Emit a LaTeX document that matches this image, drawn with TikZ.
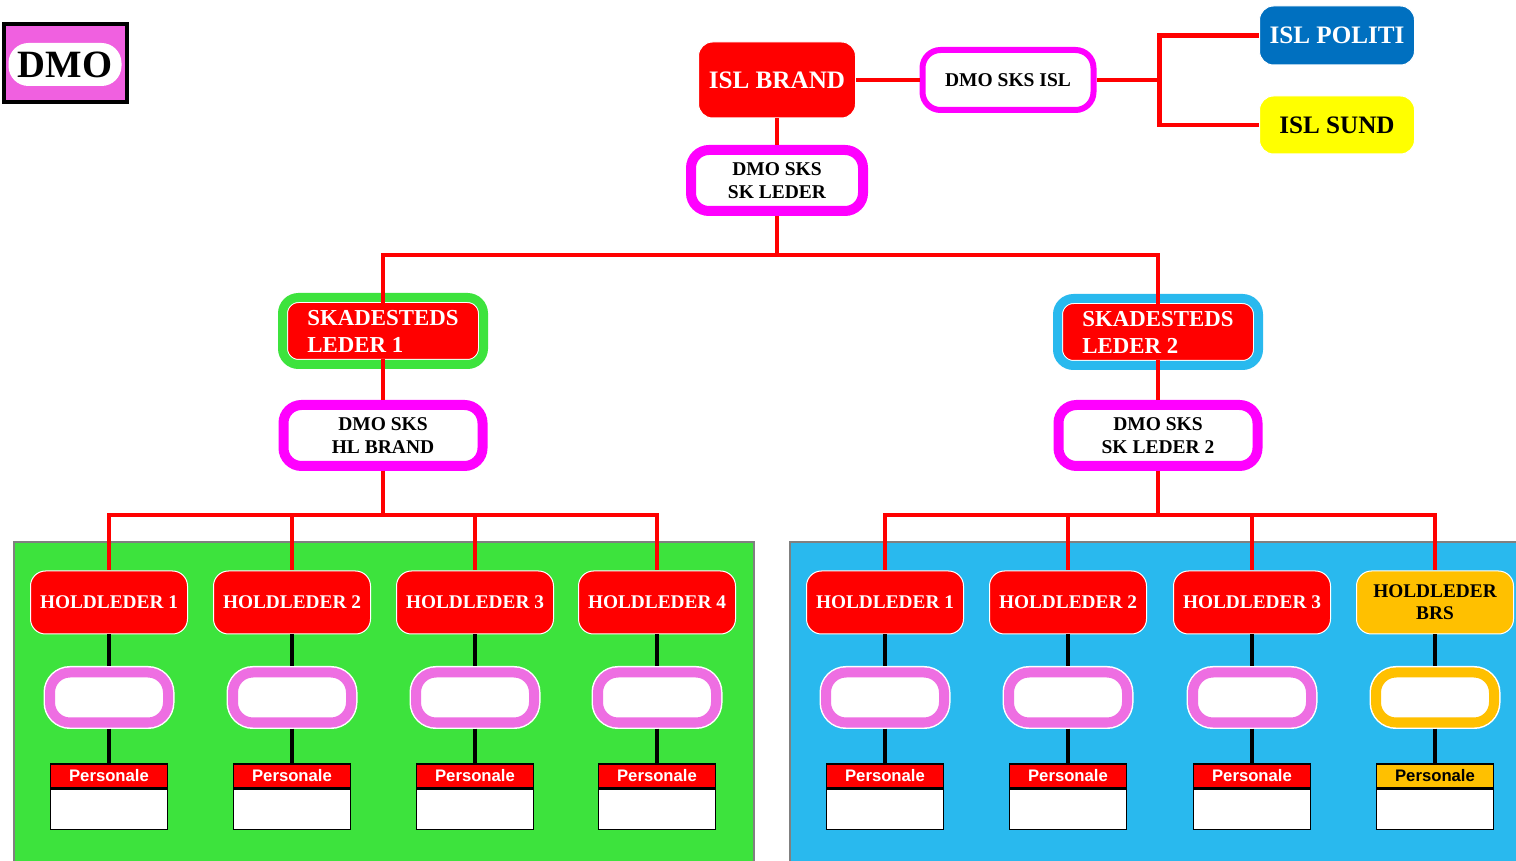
\documentclass[tikz,border=0pt]{standalone}
\usepackage{fontspec}
\setmainfont{Liberation Serif}
\newfontfamily\arialfont{Liberation Sans}
\newcommand{\pix}{0.02cm}
\definecolor{panelgreen}{HTML}{3DE33D}
\definecolor{panelblue}{HTML}{29B9EE}
\definecolor{pillpink}{HTML}{EE6EE2}
\definecolor{dmopink}{HTML}{F060E0}
\definecolor{sksmagenta}{HTML}{FF00FF}
\definecolor{politiblue}{HTML}{0070C0}
\definecolor{sundyellow}{HTML}{FFFF00}
\definecolor{brsorange}{HTML}{FFC000}

\begin{document}
\begin{tikzpicture}[x=\pix, y=-\pix,
    redbox/.style={fill=red, draw=white, line width=1*\pix, rounded corners=14*\pix, inner sep=0pt, text=white, font=\bfseries\fontsize{14.3}{17}\selectfont},
    pinkbox/.style={draw=sksmagenta, fill=white, rounded corners=18*\pix, inner sep=0pt, align=center, font=\bfseries\fontsize{11.1}{13}\selectfont},
    skbox/.style={fill=red, draw=white, line width=1*\pix, double distance=9*\pix, rounded corners=16*\pix, minimum width=201*\pix, minimum height=67*\pix, inner sep=0pt, align=left, text=white, font=\bfseries\fontsize{13}{15.4}\selectfont},
    holdbox/.style={fill=red, draw=white, line width=1*\pix, rounded corners=15*\pix, minimum width=157*\pix, minimum height=63*\pix, inner sep=0pt, align=center, text=white, font=\bfseries\fontsize{11}{12.5}\selectfont},
    pill/.style={fill=white, draw=white, line width=1.5*\pix, double=pillpink, double distance=10*\pix, rounded corners=20*\pix, minimum width=118*\pix, minimum height=50*\pix, inner sep=0pt},
    perstop/.style={fill=red, draw=black, line width=1.5*\pix, minimum width=117*\pix, minimum height=24*\pix, inner sep=0pt, anchor=north, text=white, font=\arialfont\bfseries\fontsize{9.5}{11}\selectfont},
    persbody/.style={fill=white, draw=black, line width=1.5*\pix, minimum width=117*\pix, minimum height=40*\pix, inner sep=0pt, anchor=north},
    redline/.style={draw=red, line width=4.5*\pix},
    blackline/.style={draw=black, line width=4*\pix}]
    \useasboundingbox (0,0) rectangle (1516,861);

    % Panels
    \filldraw[fill=panelgreen, draw=gray, line width=1.5*\pix] (14,542) rectangle (754,880);
    \filldraw[fill=panelblue, draw=gray, line width=1.5*\pix] (790,542) rectangle (1540,880);

    % Logo
    \node[draw=black, line width=4*\pix, fill=dmopink, minimum width=123*\pix, minimum height=78*\pix, inner sep=0pt] (dmo) at (65.5,63) {};
    \node[fill=white, rounded corners=20*\pix, minimum width=113*\pix, minimum height=43*\pix, inner sep=0pt, font=\bfseries\fontsize{22}{26}\selectfont] (dmotext) at (65,64.5) {DMO};

    % Top
    \node[redbox, minimum width=157*\pix, minimum height=76*\pix] (islbrand) at (777,80) {ISL BRAND};
    \node[pinkbox, line width=6*\pix, minimum width=171*\pix, minimum height=60*\pix] (sksisl) at (1008,80) {DMO SKS ISL};
    \node[redbox, fill=politiblue, minimum width=155*\pix, minimum height=59*\pix] (politi) at (1337,35.5) {ISL POLITI};
    \node[redbox, fill=sundyellow, text=black, minimum width=155*\pix, minimum height=58*\pix] (sund) at (1337,125) {ISL SUND};
    \node[pinkbox, line width=10*\pix, minimum width=172*\pix, minimum height=61*\pix] (sksk) at (777,180.5) {DMO SKS\\SK LEDER};

    % Skadestedsledere
    \node[skbox, double=panelgreen] (sk1) at (383,331) {SKADESTEDS\\LEDER 1};
    \node[skbox, double=panelblue] (sk2) at (1158,332) {SKADESTEDS\\LEDER 2};
    \node[pinkbox, line width=10*\pix, minimum width=199*\pix, minimum height=61*\pix] (hlb) at (383,435.5) {DMO SKS\\HL BRAND};
    \node[pinkbox, line width=10*\pix, minimum width=199*\pix, minimum height=61*\pix] (sksk2) at (1158,435.5) {DMO SKS\\SK LEDER 2};

    % Holdledere, left
    \node[holdbox] (hl11) at (109,602.5) {HOLDLEDER 1};
    \node[holdbox] (hl12) at (292,602.5) {HOLDLEDER 2};
    \node[holdbox] (hl13) at (475,602.5) {HOLDLEDER 3};
    \node[holdbox] (hl14) at (657,602.5) {HOLDLEDER 4};

    % Holdledere, right
    \node[holdbox] (hl21) at (885,602.5) {HOLDLEDER 1};
    \node[holdbox] (hl22) at (1068,602.5) {HOLDLEDER 2};
    \node[holdbox] (hl23) at (1252,602.5) {HOLDLEDER 3};
    \node[holdbox, fill=brsorange, text=black] (hl24) at (1435,602.5) {HOLDLEDER\\BRS};

    % Pills
    \node[pill] (pill11) at (109,697.5) {};
    \node[pill] (pill12) at (292,697.5) {};
    \node[pill] (pill13) at (475,697.5) {};
    \node[pill] (pill14) at (657,697.5) {};
    \node[pill] (pill21) at (885,697.5) {};
    \node[pill] (pill22) at (1068,697.5) {};
    \node[pill] (pill23) at (1252,697.5) {};
    \node[pill, double=brsorange] (pill24) at (1435,697.5) {};

    % Personale
    \node[perstop] (pers11) at (109,763) {Personale};
    \node[perstop] (pers12) at (292,763) {Personale};
    \node[perstop] (pers13) at (475,763) {Personale};
    \node[perstop] (pers14) at (657,763) {Personale};
    \node[perstop] (pers21) at (885,763) {Personale};
    \node[perstop] (pers22) at (1068,763) {Personale};
    \node[perstop] (pers23) at (1252,763) {Personale};
    \node[perstop, fill=brsorange, text=black] (pers24) at (1435,763) {Personale};
    \node[persbody] (body11) at (pers11.south) {};
    \node[persbody] (body12) at (pers12.south) {};
    \node[persbody] (body13) at (pers13.south) {};
    \node[persbody] (body14) at (pers14.south) {};
    \node[persbody] (body21) at (pers21.south) {};
    \node[persbody] (body22) at (pers22.south) {};
    \node[persbody] (body23) at (pers23.south) {};
    \node[persbody] (body24) at (pers24.south) {};

    % Connectors, top
    \draw[redline] (islbrand.east) -- (sksisl.west);
    \draw[redline] (sksisl.east) -- ++(63,0) coordinate (fork) |- (politi.west);
    \draw[redline] (fork) |- (sund.west);
    \draw[redline] (islbrand.south) -- (sksk.north);
    \draw[redline] (sksk.south) -- ++(0,39) -| ([yshift=-6*\pix]sk1.north);
    \draw[redline] (sksk.south) -- ++(0,39) -| ([yshift=-6*\pix]sk2.north);
    \draw[redline] ([yshift=6*\pix]sk1.south) -- (hlb.north);
    \draw[redline] ([yshift=6*\pix]sk2.south) -- (sksk2.north);

    % Connectors, holdledere
    \foreach \n in {11,12,13,14}
        \draw[redline] (hlb.south) -- ++(0,44) -| (hl\n.north);
    \foreach \n in {21,22,23,24}
        \draw[redline] (sksk2.south) -- ++(0,44) -| (hl\n.north);
    \foreach \n in {11,12,13,14,21,22,23,24} {
        \draw[blackline, shorten >=5.5*\pix] (hl\n.south) -- (pill\n.north);
        \draw[blackline, shorten <=5.5*\pix] (pill\n.south) -- (pers\n.north);
    }
\end{tikzpicture}
\end{document}
